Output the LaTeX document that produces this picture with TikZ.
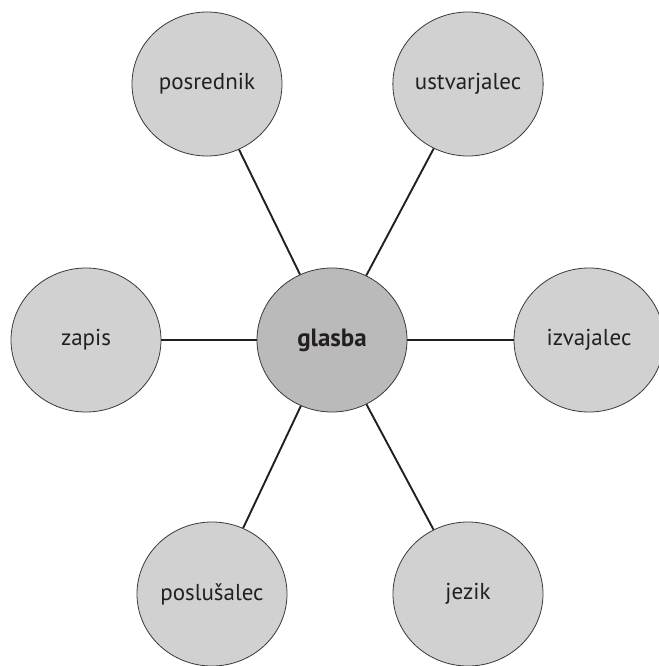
\documentclass[tikz,border=0pt]{standalone}
\usepackage{fontspec}
\setmainfont{PT Sans}
\usetikzlibrary{shapes.geometric}
\definecolor{rimgray}{HTML}{3A3A3C}
\definecolor{textgray}{HTML}{231F20}
\tikzset{
  bubble/.style={ellipse, draw=rimgray, line width=0.8pt, fill=black!18,
    minimum width=150pt, minimum height=144pt, inner sep=0pt,
    text=textgray, font=\fontsize{23}{26}\selectfont},
  hub/.style={bubble, fill=black!27, font=\fontsize{25}{28}\selectfont\bfseries},
  spoke/.style={line width=1.9pt, textgray}
}
\begin{document}
\begin{tikzpicture}[x=1pt,y=-1pt]
  \useasboundingbox (0,0) rectangle (658,666);
  \node[hub] (glasba) at (332,340) {glasba};
  \node[bubble] (posrednik) at (207,84) {posrednik};
  \node[bubble] (ustvarjalec) at (468,84) {ustvarjalec};
  \node[bubble] (zapis) at (86,340) {zapis};
  \node[bubble] (izvajalec) at (589,340) {izvajalec};
  \node[bubble] (poslusalec) at (212,594) {poslušalec};
  \node[bubble] (jezik) at (468,594) {jezik};
  % spokes from the middle
  \foreach \n in {posrednik,ustvarjalec,zapis,izvajalec,poslusalec,jezik}
    \draw[spoke] (glasba) -- (\n);
\end{tikzpicture}
\end{document}
